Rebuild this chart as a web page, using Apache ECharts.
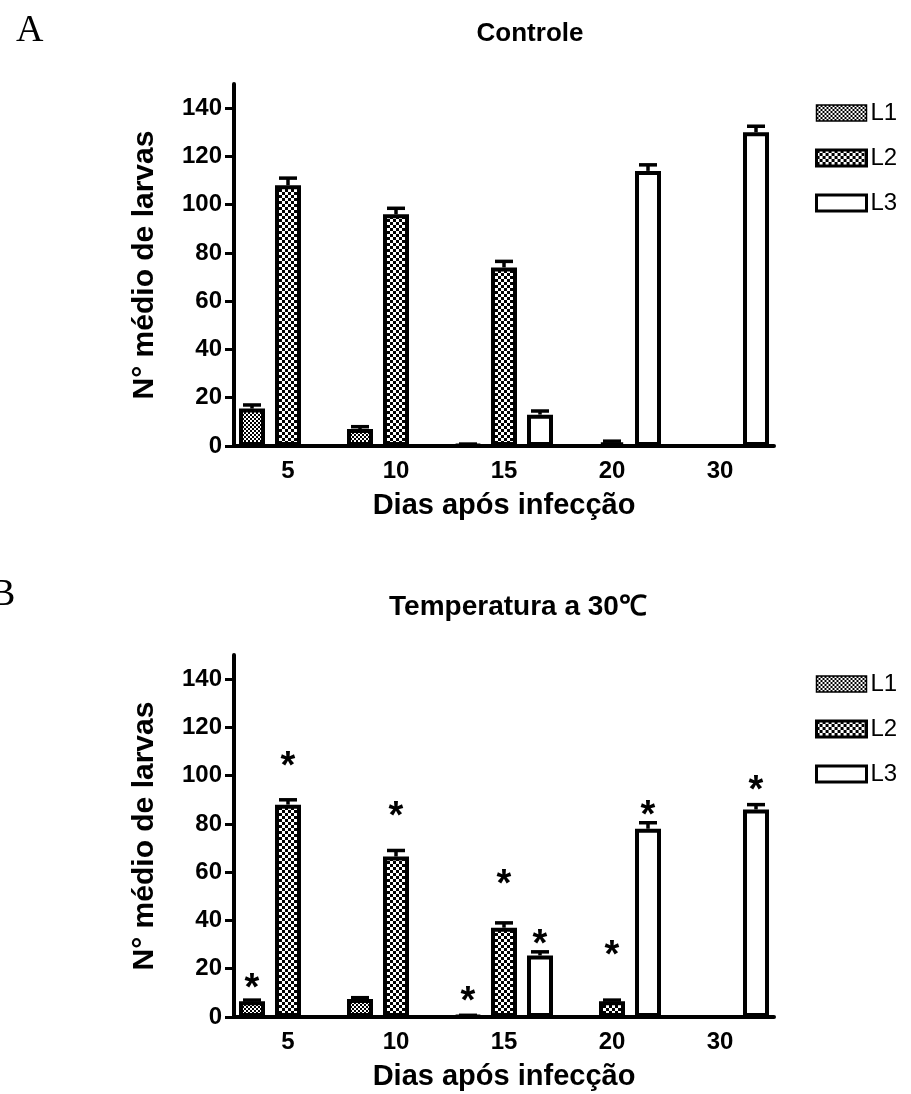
<!DOCTYPE html>
<html>
<head>
<meta charset="utf-8">
<script src="https://cdn.jsdelivr.net/npm/echarts@6/dist/echarts.min.js"></script>
<style>
  html, body { margin: 0; padding: 0; background: #ffffff; }
  #chart { width: 911px; height: 1094px; }
</style>
</head>
<body>
<div id="chart"></div>
<script>
// Days after infection (categories) and larval stages (series)
const days = ['5', '10', '15', '20', '30'];
const stages = ['L1', 'L2', 'L3'];
const yTicks = [0, 20, 40, 60, 80, 100, 120, 140];

// Controle: mean number of larvae and SEM
const ctrlL1 = [15.5, 7, 0.5, 0, 0];
const ctrlL2 = [108, 96, 74, 1.5, 0];
const ctrlL3 = [0, 0, 13, 114, 130];
const ctrlErrL1 = [1.5, 1, 0.3, 0, 0];
const ctrlErrL2 = [3, 2.5, 2.5, 0.5, 0];
const ctrlErrL3 = [0, 0, 1.5, 2.5, 2.5];

// Temperatura a 30 °C: mean number of larvae and SEM
const heatL1 = [6.5, 7.5, 0.5, 0, 0];
const heatL2 = [88, 66.5, 37, 6.5, 0];
const heatL3 = [0, 0, 25.5, 78, 86];
const heatErrL1 = [0.5, 0.5, 0.2, 0, 0];
const heatErrL2 = [2, 2.5, 2, 0.5, 0];
const heatErrL3 = [0, 0, 1.5, 2.5, 2];

// Height at which the significance asterisk sits (null = not significant)
const heatSigL1 = [14, null, 8.5, null, null];
const heatSigL2 = [106, 85, 57, 27.5, null];
const heatSigL3 = [null, null, 32, 85.5, 96];

// ---- drawing ----
const FONT = '"Liberation Sans", Arial, sans-serif';
const PLOT_W = 540;
const BAR_W = 26;
const BAR_GAP = (PLOT_W / days.length - 3 * BAR_W) / 3;
const SLOT = BAR_W + BAR_GAP;

function checker(cell) {
  const c = document.createElement('canvas');
  c.width = c.height = cell * 2;
  const g = c.getContext('2d');
  g.fillStyle = '#ffffff';
  g.fillRect(0, 0, cell * 2, cell * 2);
  g.fillStyle = '#000000';
  g.fillRect(0, 0, cell, cell);
  g.fillRect(cell, cell, cell, cell);
  return c;
}
const fills = [
  { image: checker(2), repeat: 'repeat' },
  { image: checker(3), repeat: 'repeat' },
  '#ffffff'
];

const grids = [
  { left: 234, top: 84, width: PLOT_W, height: 362 },
  { left: 234, top: 655, width: PLOT_W, height: 362 }
];

function xAxisFor(gi) {
  return {
    type: 'category', gridIndex: gi, data: days,
    axisLine: { lineStyle: { color: '#000', width: 4 } },
    axisTick: { show: false },
    axisLabel: { color: '#000', fontFamily: FONT, fontWeight: 'bold', fontSize: 24, margin: 13 },
    name: 'Dias após infecção', nameLocation: 'middle', nameGap: 45,
    nameTextStyle: { color: '#000', fontFamily: FONT, fontWeight: 'bold', fontSize: 29 }
  };
}
function yAxisFor(gi) {
  return {
    type: 'value', gridIndex: gi, min: 0, max: 150,
    axisLine: { show: true, lineStyle: { color: '#000', width: 4 } },
    axisTick: { show: true, length: 9, customValues: yTicks, lineStyle: { color: '#000', width: 3 } },
    axisLabel: { customValues: yTicks, color: '#000', fontFamily: FONT, fontWeight: 'bold', fontSize: 24, margin: 12 },
    splitLine: { show: false },
    name: 'N° médio de larvas', nameLocation: 'middle', nameGap: 74, nameRotate: 90,
    nameTextStyle: { color: '#000', fontFamily: FONT, fontWeight: 'bold', fontSize: 30 }
  };
}

function barSeries(gi, idx, values) {
  return {
    type: 'bar', name: stages[idx], xAxisIndex: gi, yAxisIndex: gi,
    data: values, barWidth: BAR_W, barGap: (BAR_GAP / BAR_W * 100) + '%',
    itemStyle: { color: fills[idx], borderColor: '#000', borderWidth: 4 },
    emphasis: { disabled: true }, z: 2
  };
}

function errorSeries(gi, vals, errs) {
  const data = [];
  vals.forEach((arr, s) => arr.forEach((v, i) => {
    if (errs[s][i] > 0) data.push([i, v, errs[s][i], s]);
  }));
  return {
    type: 'custom', xAxisIndex: gi, yAxisIndex: gi, data, z: 3,
    encode: { x: 0, y: 1 }, silent: true,
    renderItem(params, api) {
      const off = (api.value(3) - 1) * SLOT;
      const base = api.coord([api.value(0), api.value(1)]);
      const top = api.coord([api.value(0), api.value(1) + api.value(2)]);
      const x = base[0] + off;
      const st = { stroke: '#000', lineWidth: 3.5 };
      return {
        type: 'group', children: [
          { type: 'line', shape: { x1: x, y1: base[1], x2: x, y2: top[1] }, style: st },
          { type: 'line', shape: { x1: x - 9, y1: top[1], x2: x + 9, y2: top[1] }, style: st }
        ]
      };
    }
  };
}

function starSeries(gi, sigs) {
  const data = [];
  sigs.forEach((arr, s) => arr.forEach((h, i) => { if (h != null) data.push([i, h, s]); }));
  return {
    type: 'custom', xAxisIndex: gi, yAxisIndex: gi, data, z: 4,
    encode: { x: 0, y: 1 }, silent: true,
    renderItem(params, api) {
      const p = api.coord([api.value(0), api.value(1)]);
      return {
        type: 'text',
        style: {
          x: p[0] + (api.value(2) - 1) * SLOT, y: p[1] + 6, text: '*',
          font: 'bold 38px ' + FONT, fill: '#000', align: 'center', verticalAlign: 'middle'
        }
      };
    }
  };
}

function legendFor(top) {
  return {
    orient: 'vertical', left: 810, top, itemWidth: 50, itemHeight: 16, itemGap: 21,
    icon: 'rect', selectedMode: false,
    data: [
      { name: 'L1', itemStyle: { borderWidth: 1.5, borderColor: '#000' } },
      { name: 'L2', itemStyle: { borderWidth: 3, borderColor: '#000' } },
      { name: 'L3', itemStyle: { borderWidth: 3, borderColor: '#000' } }
    ],
    textStyle: { color: '#000', fontFamily: FONT, fontSize: 24, padding: [0, 0, 0, -1] }
  };
}

const chart = echarts.init(document.getElementById('chart'), null, { renderer: 'canvas' });
chart.setOption({
  animation: false,
  backgroundColor: '#ffffff',
  grid: grids,
  xAxis: [xAxisFor(0), xAxisFor(1)],
  yAxis: [yAxisFor(0), yAxisFor(1)],
  legend: [legendFor(96), legendFor(667)],
  series: [
    barSeries(0, 0, ctrlL1), barSeries(0, 1, ctrlL2), barSeries(0, 2, ctrlL3),
    errorSeries(0, [ctrlL1, ctrlL2, ctrlL3], [ctrlErrL1, ctrlErrL2, ctrlErrL3]),
    barSeries(1, 0, heatL1), barSeries(1, 1, heatL2), barSeries(1, 2, heatL3),
    errorSeries(1, [heatL1, heatL2, heatL3], [heatErrL1, heatErrL2, heatErrL3]),
    starSeries(1, [heatSigL1, heatSigL2, heatSigL3])
  ],
  graphic: [
    { type: 'text', left: 16, top: 12, style: { text: 'A', font: '38px "Liberation Serif", "Times New Roman", serif', fill: '#000' } },
    { type: 'text', left: -10, top: 576, style: { text: 'B', font: '38px "Liberation Serif", "Times New Roman", serif', fill: '#000' } },
    { type: 'text', x: 530, y: 34, style: { text: 'Controle', font: 'bold 26px ' + FONT, fill: '#000', align: 'center', verticalAlign: 'middle' } },
    { type: 'text', x: 518, y: 607, style: { text: 'Temperatura a 30℃', font: 'bold 28px ' + FONT, fill: '#000', align: 'center', verticalAlign: 'middle' } }
  ]
});
</script>
</body>
</html>
